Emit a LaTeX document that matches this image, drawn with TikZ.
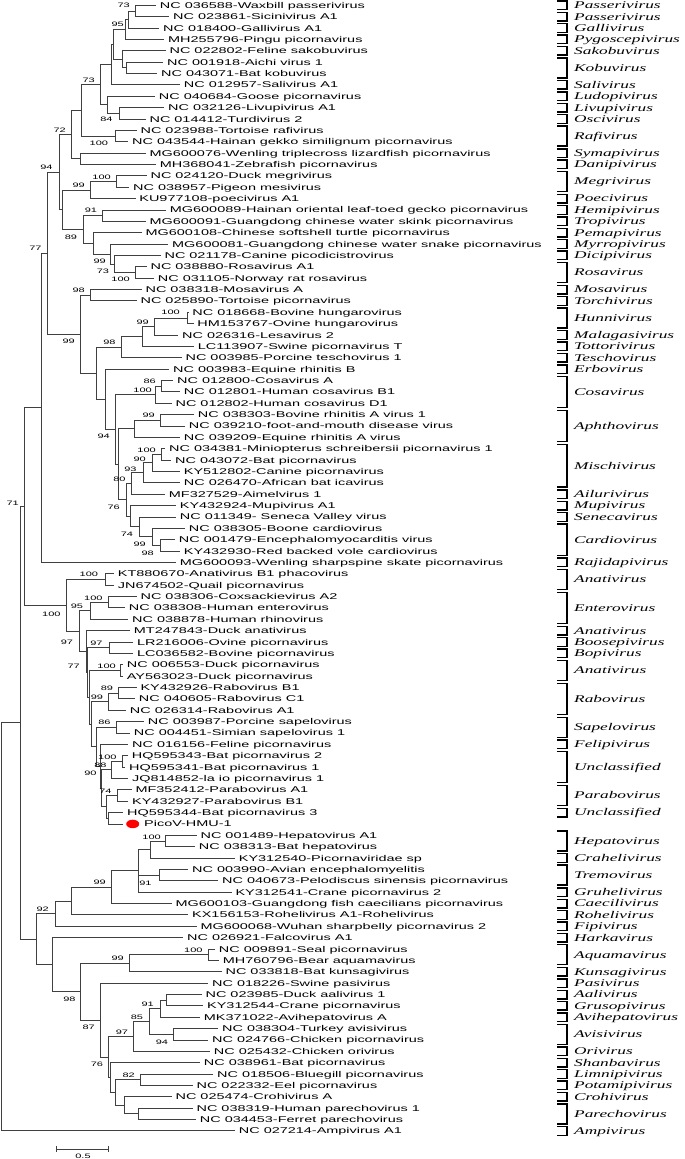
\documentclass[tikz,border=0pt]{standalone}
\usepackage{fontspec}
\usetikzlibrary{calc,shapes.geometric}
\newfontfamily\lfont[FakeStretch=1.72]{Liberation Sans}
\newfontfamily\gfont[FakeStretch=1.68]{Liberation Serif}
\tikzset{
 leaf/.style={anchor=west, inner xsep=3.7pt, inner ysep=0pt, text height=6pt, text depth=0pt, font=\lfont\fontsize{8.4}{9}\selectfont},
 bs/.style={anchor=east, inner sep=0pt, text height=4.6pt, text depth=0pt, font=\lfont\fontsize{6.4}{7}\selectfont},
 gl/.style={anchor=west, inner sep=0pt, text height=6.8pt, text depth=0pt, font=\gfont\itshape\fontsize{10.3}{11}\selectfont},
 br/.style={draw=black!75, line width=0.9pt},
 brk/.style={draw=black, line width=1.4pt},
 sb/.style={draw=black!75, line width=0.9pt},
 reddot/.style={ellipse, fill=red, draw=none, minimum width=13pt, minimum height=8.5pt, inner sep=0pt}
}
\newcommand\leafnode[3]{\node[leaf] (n#1) at (#2,{-(5.3+(#1-1)*11.37)}) {#3};}
\newcommand\clade[4]{\path let \p1=(#3),\p2=(#4) in coordinate (#1) at (#2,{0.5*(\y1+\y2)});
 \draw[br] (#1) |- (#3); \draw[br] (#1) |- (#4);}
\newcommand\boot[4]{\node[bs] (b#1) at (#2,-#3) {#4};}
\newcommand\genus[3]{%
 \draw[brk] (557,{-(5.3+(#1-1)*11.37)+4.3}) -| (567,{-(5.3+(#2-1)*11.37)-4.3}) -- (557,{-(5.3+(#2-1)*11.37)-4.3});
 \node[gl] (g#1) at (574,{-(5.3+(#1+#2-2)*11.37/2)}) {#3};}
\begin{document}
\begin{tikzpicture}[x=1pt,y=1pt]
\useasboundingbox (0,0) rectangle (685,-1159);
% leaves
\leafnode{1}{156}{NC 036588-Waxbill passerivirus}
\leafnode{2}{169.3}{NC 023861-Sicinivirus A1}
\leafnode{3}{159.3}{NC 018400-Gallivirus A1}
\leafnode{4}{164.3}{MH255796-Pingu picornavirus}
\leafnode{5}{165.7}{NC 022802-Feline sakobuvirus}
\leafnode{6}{163.3}{NC 001918-Aichi virus 1}
\leafnode{7}{157.3}{NC 043071-Bat kobuvirus}
\leafnode{8}{180}{NC 012957-Salivirus A1}
\leafnode{9}{155}{NC 040684-Goose picornavirus}
\leafnode{10}{164.3}{NC 032126-Livupivirus A1}
\leafnode{11}{145.7}{NC 014412-Turdivirus 2}
\leafnode{12}{136.7}{NC 023988-Tortoise rafivirus}
\leafnode{13}{128.3}{NC 043544-Hainan gekko similignum picornavirus}
\leafnode{14}{145.7}{MG600076-Wenling triplecross lizardfish picornavirus}
\leafnode{15}{156}{MH368041-Zebrafish picornavirus}
\leafnode{16}{146.7}{NC 024120-Duck megrivirus}
\leafnode{17}{129.3}{NC 038957-Pigeon mesivirus}
\leafnode{18}{135.5}{KU977108-poecivirus A1}
\leafnode{19}{166}{MG600089-Hainan oriental leaf-toed gecko picornavirus}
\leafnode{20}{145.7}{MG600091-Guangdong chinese water skink picornavirus}
\leafnode{21}{141.7}{MG600108-Chinese softshell turtle picornavirus}
\leafnode{22}{168.3}{MG600081-Guangdong chinese water snake picornavirus}
\leafnode{23}{160.7}{NC 021178-Canine picodicistrovirus}
\leafnode{24}{146.7}{NC 038880-Rosavirus A1}
\leafnode{25}{154}{NC 031105-Norway rat rosavirus}
\leafnode{26}{141.7}{NC 038318-Mosavirus A}
\leafnode{27}{136.7}{NC 025890-Tortoise picornavirus}
\leafnode{28}{188.5}{NC 018668-Bovine hungarovirus}
\leafnode{29}{193.5}{HM153767-Ovine hungarovirus}
\leafnode{30}{178.3}{NC 026316-Lesavirus 2}
\leafnode{31}{194}{LC113907-Swine picornavirus T}
\leafnode{32}{181.7}{NC 003985-Porcine teschovirus 1}
\leafnode{33}{169.3}{NC 003983-Equine rhinitis B}
\leafnode{34}{173.3}{NC 012800-Cosavirus A}
\leafnode{35}{180}{NC 012801-Human cosavirus B1}
\leafnode{36}{171.7}{NC 012802-Human cosavirus D1}
\leafnode{37}{194}{NC 038303-Bovine rhinitis A virus 1}
\leafnode{38}{185}{NC 039210-foot-and-mouth disease virus}
\leafnode{39}{180}{NC 039209-Equine rhinitis A virus}
\leafnode{40}{165.3}{NC 034381-Miniopterus schreibersii picornavirus 1}
\leafnode{41}{171.3}{NC 043072-Bat picornavirus}
\leafnode{42}{180}{KY512802-Canine picornavirus}
\leafnode{43}{180}{NC 026470-African bat icavirus}
\leafnode{44}{165}{MF327529-Aimelvirus 1}
\leafnode{45}{176}{KY432924-Mupivirus A1}
\leafnode{46}{176}{NC 011349- Seneca Valley virus}
\leafnode{47}{185}{NC 038305-Boone cardiovirus}
\leafnode{48}{175}{NC 001479-Encephalomyocarditis virus}
\leafnode{49}{180}{KY432930-Red backed vole cardiovirus}
\leafnode{50}{176}{MG600093-Wenling sharpspine skate picornavirus}
\leafnode{51}{114}{KT880670-Anativirus B1 phacovirus}
\leafnode{52}{114}{JN674502-Quail picornavirus}
\leafnode{53}{136.7}{NC 038306-Coxsackievirus A2}
\leafnode{54}{125}{NC 038308-Human enterovirus}
\leafnode{55}{128.3}{NC 038878-Human rhinovirus}
\leafnode{56}{130}{MT247843-Duck anativirus}
\leafnode{57}{133.3}{LR216006-Ovine picornavirus}
\leafnode{58}{133.3}{LC036582-Bovine picornavirus}
\leafnode{59}{123}{NC 006553-Duck picornavirus}
\leafnode{60}{123}{AY563023-Duck picornavirus}
\leafnode{61}{136.7}{KY432926-Rabovirus B1}
\leafnode{62}{135}{NC 040605-Rabovirus C1}
\leafnode{63}{126}{NC 026314-Rabovirus A1}
\leafnode{64}{144}{NC 003987-Porcine sapelovirus}
\leafnode{65}{130}{NC 004451-Simian sapelovirus 1}
\leafnode{66}{128.3}{NC 016156-Feline picornavirus}
\leafnode{67}{128}{HQ595343-Bat picornavirus 2}
\leafnode{68}{125.3}{HQ595341-Bat picornavirus 1}
\leafnode{69}{128.3}{JQ814852-la io picornavirus 1}
\leafnode{70}{131.7}{MF352412-Parabovirus A1}
\leafnode{71}{128.3}{KY432927-Parabovirus B1}
\leafnode{72}{123.3}{HQ595344-Bat picornavirus 3}
\coordinate (t73) at (123.3,{-(5.3+72*11.37)});
\node[leaf] (n73) at (140.3,{-(5.3+72*11.37)}) {PicoV-HMU-1};
\node[reddot] (dot73) at (132.7,{-(5.3+72*11.37)}) {};
\leafnode{74}{196.7}{NC 001489-Hepatovirus A1}
\leafnode{75}{195}{NC 038313-Bat hepatovirus}
\leafnode{76}{235}{KY312540-Picornaviridae sp}
\leafnode{77}{188.3}{NC 003990-Avian encephalomyelitis}
\leafnode{78}{218.3}{NC 040673-Pelodiscus sinensis picornavirus}
\leafnode{79}{231.7}{KY312541-Crane picornavirus 2}
\leafnode{80}{171.7}{MG600103-Guangdong fish caecilians picornavirus}
\leafnode{81}{188.3}{KX156153-Rohelivirus A1-Rohelivirus}
\leafnode{82}{196.7}{MG600068-Wuhan sharpbelly picornavirus 2}
\leafnode{83}{183.3}{NC 026921-Falcovirus A1}
\leafnode{84}{215}{NC 009891-Seal picornavirus}
\leafnode{85}{219}{MH760796-Bear aquamavirus}
\leafnode{86}{221.7}{NC 033818-Bat kunsagivirus}
\leafnode{87}{208.3}{NC 018226-Swine pasivirus}
\leafnode{88}{201.7}{NC 023985-Duck aalivirus 1}
\leafnode{89}{203.3}{KY312544-Crane picornavirus}
\leafnode{90}{200}{MK371022-Avihepatovirus A}
\leafnode{91}{218.3}{NC 038304-Turkey avisivirus}
\leafnode{92}{208.3}{NC 024766-Chicken picornavirus}
\leafnode{93}{210}{NC 025432-Chicken orivirus}
\leafnode{94}{200}{NC 038961-Bat picornavirus}
\leafnode{95}{213.3}{NC 018506-Bluegill picornavirus}
\leafnode{96}{192.7}{NC 022332-Eel picornavirus}
\leafnode{97}{171.7}{NC 025474-Crohivirus A}
\leafnode{98}{192.7}{NC 038319-Human parechovirus 1}
\leafnode{99}{196}{NC 034453-Ferret parechovirus}
\leafnode{100}{235}{NC 027214-Ampivirus A1}
% clades, upper part
\clade{A1}{135}{n1.west}{n2.west}
\clade{A2}{128.3}{A1}{n3.west}
\clade{A3}{125}{A2}{n4.west}
\clade{K1}{126.7}{n6.west}{n7.west}
\clade{K2}{122.7}{n5.west}{K1}
\clade{A5}{113}{A3}{K2}
\clade{A6}{111.5}{A5}{n8.west}
\clade{G1}{119}{n10.west}{n11.west}
\clade{G2}{107.3}{n9.west}{G1}
\clade{B1}{100}{A6}{G2}
\clade{R1}{115}{n12.west}{n13.west}
\clade{B2}{81.7}{B1}{R1}
\clade{W1}{80}{n14.west}{n15.west}
\clade{B3}{71.7}{B2}{W1}
\clade{M1}{116.7}{n16.west}{n17.west}
\clade{M2}{90.7}{M1}{n18.west}
\clade{H1}{102.7}{n19.west}{n20.west}
\clade{T1}{135}{n24.west}{n25.west}
\clade{T2}{114}{n23.west}{T1}
\clade{T3}{110}{n22.west}{T2}
\clade{T4}{93.3}{n21.west}{T3}
\clade{T5}{83.3}{H1}{T4}
\clade{B5}{62.7}{M2}{T5}
\clade{B4}{59.3}{B3}{B5}
\clade{MO}{90.7}{n26.west}{n27.west}
\clade{HU1}{187}{n28.west}{n29.west}
\clade{HU2}{154}{HU1}{n30.west}
\clade{HU3}{142.7}{HU2}{n31.west}
\clade{HU4}{121.7}{HU3}{n32.west}
\clade{CS1}{161}{n34.west}{n35.west}
\clade{CS2}{155}{CS1}{n36.west}
\clade{AP1}{160.7}{n37.west}{n38.west}
\clade{AP2}{134.3}{AP1}{n39.west}
\clade{MI1}{161}{n40.west}{n41.west}
\clade{MI2}{152.3}{MI1}{n42.west}
\clade{MI3}{143.3}{MI2}{n43.west}
\clade{MI4}{131}{MI3}{n44.west}
\clade{CA1}{160}{n48.west}{n49.west}
\clade{CA2}{152.3}{n47.west}{CA1}
\clade{CA3}{139.3}{n46.west}{CA2}
\clade{CA4}{130.7}{n45.west}{CA3}
\clade{MC}{126}{MI4}{CA4}
\clade{AM}{118.3}{AP2}{MC}
\clade{CM}{115}{CS2}{AM}
\clade{ER}{105}{n33.west}{CM}
\clade{HE}{96.7}{HU4}{ER}
\clade{C99}{80}{MO}{HE}
\clade{B6}{47.3}{B4}{C99}
\clade{B7}{41.7}{B6}{n50.west}
% middle part
\clade{AN1}{105}{n51.west}{n52.west}
\clade{EN1}{108.3}{n53.west}{n54.west}
\clade{EN2}{90}{EN1}{n55.west}
\clade{OV}{109.3}{n57.west}{n58.west}
\clade{DK}{120.7}{n59.west}{n60.west}
\clade{RB1}{118.7}{n61.west}{n62.west}
\clade{RB2}{108.3}{RB1}{n63.west}
\clade{SP}{116.7}{n64.west}{n65.west}
\clade{BT1}{122.7}{n67.west}{n68.west}
\clade{BT2}{111.7}{BT1}{n69.west}
\clade{PB}{117.3}{n70.west}{n71.west}
\clade{PV}{108.3}{n72.west}{t73}
\clade{P2}{106}{PB}{PV}
\clade{P3}{101.7}{BT2}{P2}
\clade{F1}{100}{n66.west}{P3}
\clade{S1}{96.7}{SP}{F1}
\clade{R3}{91.7}{RB2}{S1}
\clade{R4}{89.3}{DK}{R3}
\clade{R5}{87.3}{OV}{R4}
\clade{R6}{86}{n56.west}{R5}
\clade{E3}{79}{EN2}{R6}
\clade{E4}{66.7}{AN1}{E3}
\clade{B8}{24}{B7}{E4}
% lower part
\clade{HP1}{165.7}{n74.west}{n75.west}
\clade{HP2}{150}{HP1}{n76.west}
\clade{TR1}{159.3}{n77.west}{n78.west}
\clade{HT}{138.3}{HP2}{n79.west}
\draw[br] (HT) |- (TR1);
\clade{GF}{111}{HT}{n80.west}
\clade{RH}{71.7}{GF}{n81.west}
\clade{WU}{55}{RH}{n82.west}
\clade{AQ1}{208.3}{n84.west}{n85.west}
\clade{AQ2}{129.3}{AQ1}{n86.west}
\clade{AA1}{166}{n88.west}{n89.west}
\clade{AA2}{160.7}{AA1}{n90.west}
\clade{AV1}{173.3}{n91.west}{n92.west}
\clade{AA3}{149.3}{AA2}{AV1}
\clade{OR}{133.3}{AA3}{n93.west}
\clade{LM1}{140}{n95.west}{n96.west}
\clade{PA1}{138.3}{n98.west}{n99.west}
\clade{CR}{124.3}{n97.west}{PA1}
\clade{LC}{115}{LM1}{CR}
\clade{BL}{110.7}{n94.west}{LC}
\clade{OB}{108.3}{OR}{BL}
\clade{PS}{100.7}{n87.west}{OB}
\clade{AP}{80.7}{AQ2}{PS}
\clade{FA}{52.7}{n83.west}{AP}
\clade{LW}{36}{WU}{FA}
\clade{B9}{20.7}{B8}{LW}
\clade{ROOT}{1}{B9}{n100.west}
% bootstrap values
\boot{A1}{130}{5.3}{73}
\boot{A2}{124}{24.3}{95}
\boot{B1}{95}{80}{73}
\boot{G1}{112.7}{119.3}{84}
\boot{R1}{108.3}{143.3}{100}
\boot{B3}{66}{130}{72}
\boot{B4}{52.7}{166.7}{94}
\boot{M1}{111}{176.7}{100}
\boot{M2}{85}{185}{99}
\boot{H1}{97.3}{210}{91}
\boot{T5}{77.3}{236.7}{89}
\boot{B6}{41.7}{248.3}{77}
\boot{T3}{106}{260.7}{99}
\boot{T2}{109.3}{271}{73}
\boot{T1}{130}{279.3}{100}
\boot{MO}{85}{290}{98}
\boot{HU1}{180}{312.3}{100}
\boot{HU2}{149}{321.7}{99}
\boot{C99}{75}{340.7}{99}
\boot{HU4}{115.7}{342.3}{98}
\boot{CS1}{156}{380.7}{86}
\boot{CS2}{152}{390}{100}
\boot{AP1}{155}{415}{99}
\boot{CM}{110}{435.7}{94}
\boot{MI1}{156}{450}{100}
\boot{MI2}{146}{459.3}{90}
\boot{MI3}{136.7}{469}{93}
\boot{MI4}{125.7}{479.3}{80}
\boot{B8}{19}{502.7}{71}
\boot{MC}{120}{506.7}{76}
\boot{CA3}{133.3}{534}{74}
\boot{CA2}{146}{544}{99}
\boot{CA1}{154}{552.7}{98}
\boot{AN1}{98.3}{574}{100}
\boot{EN1}{102.7}{597.7}{100}
\boot{EN2}{83.3}{606}{95}
\boot{E4}{60.7}{614}{100}
\boot{E3}{73.3}{641.7}{97}
\boot{OV}{102.7}{642.7}{97}
\boot{R6}{80}{665.7}{77}
\boot{DK}{116}{665.7}{100}
\boot{RB1}{113.3}{687.7}{89}
\boot{RB2}{103.3}{696.7}{99}
\boot{SP}{110.7}{721.7}{86}
\boot{BT1}{116.7}{756.7}{100}
\boot{BT2}{106.7}{765}{88}
\boot{F1}{96.7}{773.3}{90}
\boot{PB}{111.7}{790.7}{74}
\boot{HP1}{161}{836.7}{100}
\boot{GF}{106}{882.3}{99}
\boot{TR1}{151.7}{882.7}{91}
\boot{WU}{49}{909.3}{92}
\boot{AQ1}{202.7}{950}{100}
\boot{AQ2}{124}{958.3}{99}
\boot{AP}{75.7}{999}{98}
\boot{AA1}{154}{1004.3}{91}
\boot{AA3}{143.3}{1016.7}{85}
\boot{PS}{95}{1027.3}{87}
\boot{OR}{128.3}{1031.7}{97}
\boot{AV1}{168.3}{1041.7}{94}
\boot{OB}{103.3}{1064.3}{76}
\boot{LM1}{135}{1075}{82}
% genus brackets
\genus{1}{1}{Passerivirus}
\genus{2}{2}{Passerivirus}
\genus{3}{3}{Gallivirus}
\genus{4}{4}{Pygoscepivirus}
\genus{5}{5}{Sakobuvirus}
\genus{6}{7}{Kobuvirus}
\genus{8}{8}{Salivirus}
\genus{9}{9}{Ludopivirus}
\genus{10}{10}{Livupivirus}
\genus{11}{11}{Oscivirus}
\genus{12}{13}{Rafivirus}
\genus{14}{14}{Symapivirus}
\genus{15}{15}{Danipivirus}
\genus{16}{17}{Megrivirus}
\genus{18}{18}{Poecivirus}
\genus{19}{19}{Hemipivirus}
\genus{20}{20}{Tropivirus}
\genus{21}{21}{Pemapivirus}
\genus{22}{22}{Myrropivirus}
\genus{23}{23}{Dicipivirus}
\genus{24}{25}{Rosavirus}
\genus{26}{26}{Mosavirus}
\genus{27}{27}{Torchivirus}
\genus{28}{29}{Hunnivirus}
\genus{30}{30}{Malagasivirus}
\genus{31}{31}{Tottorivirus}
\genus{32}{32}{Teschovirus}
\genus{33}{33}{Erbovirus}
\genus{34}{36}{Cosavirus}
\genus{37}{39}{Aphthovirus}
\genus{40}{43}{Mischivirus}
\genus{44}{44}{Ailurivirus}
\genus{45}{45}{Mupivirus}
\genus{46}{46}{Senecavirus}
\genus{47}{49}{Cardiovirus}
\genus{50}{50}{Rajidapivirus}
\genus{51}{52}{Anativirus}
\genus{53}{55}{Enterovirus}
\genus{56}{56}{Anativirus}
\genus{57}{57}{Boosepivirus}
\genus{58}{58}{Bopivirus}
\genus{59}{60}{Anativirus}
\genus{61}{63}{Rabovirus}
\genus{64}{65}{Sapelovirus}
\genus{66}{66}{Felipivirus}
\genus{67}{69}{Unclassified}
\genus{70}{71}{Parabovirus}
\genus{72}{72}{Unclassified}
\genus{74}{75}{Hepatovirus}
\genus{76}{76}{Crahelivirus}
\genus{77}{78}{Tremovirus}
\genus{79}{79}{Gruhelivirus}
\genus{80}{80}{Caecilivirus}
\genus{81}{81}{Rohelivirus}
\genus{82}{82}{Fipivirus}
\genus{83}{83}{Harkavirus}
\genus{84}{85}{Aquamavirus}
\genus{86}{86}{Kunsagivirus}
\genus{87}{87}{Pasivirus}
\genus{88}{88}{Aalivirus}
\genus{89}{89}{Grusopivirus}
\genus{90}{90}{Avihepatovirus}
\genus{91}{92}{Avisivirus}
\genus{93}{93}{Orivirus}
\genus{94}{94}{Shanbavirus}
\genus{95}{95}{Limnipivirus}
\genus{96}{96}{Potamipivirus}
\genus{97}{97}{Crohivirus}
\genus{98}{99}{Parechovirus}
\genus{100}{100}{Ampivirus}
% scale bar
\coordinate (s1) at (56.7,-1149);
\coordinate (s2) at (108.3,-1149);
\draw[sb] (s1) -- (s2);
\draw[sb] ($(s1)+(0,3)$) -- ($(s1)+(0,-3)$);
\draw[sb] ($(s2)+(0,3)$) -- ($(s2)+(0,-3)$);
\node[bs, anchor=center] (sbl) at (83,-1156.2) {0.5};
\end{tikzpicture}
\end{document}
